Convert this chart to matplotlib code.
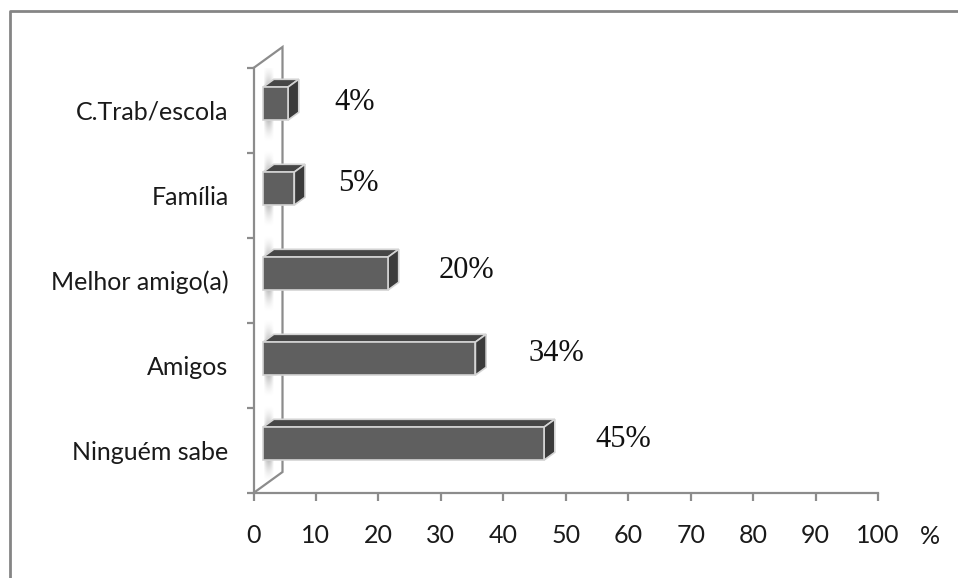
import numpy as np
import matplotlib
matplotlib.use('Agg')
import matplotlib.pyplot as plt
from matplotlib.patches import Polygon
from matplotlib.lines import Line2D

# data
categories = ['Ninguém sabe', 'Amigos', 'Melhor amigo(a)', 'Família', 'C.Trab/escola']
values = [45, 34, 20, 5, 4]
labels = ['45%', '34%', '20%', '5%', '4%']

# manual placement of the % labels (pixels from bar end)
label_dx = [89, 91, 88, 74, 76]
label_dy = [11, 12, 10, 12, 8]

W, H = 958, 578
fig = plt.figure(figsize=(W / 100, H / 100), dpi=100)

# front plot area in pixels
x0, x1 = 253.5, 878
y0, y1 = 493, 68
ax = fig.add_axes([x0 / W, (H - y0) / H, (x1 - x0) / W, (y0 - y1) / H])
ax.set_xlim(0, 100)
ax.set_ylim(0, 5)

PX = 100 / (x1 - x0)
PY = 5 / (y0 - y1)

# depth of the 3d box
DX, DY = 29 * PX, 21 * PY

axis_col = '#8c8c8c'
for s in ['top', 'right']:
    ax.spines[s].set_visible(False)
for s in ['left', 'bottom']:
    ax.spines[s].set_color(axis_col)
    ax.spines[s].set_linewidth(1.6)

# back wall line
ax.plot([0, DX, DX, 0], [0, DY, 5 + DY, 5], color=axis_col, lw=1.6,
        clip_on=False, zorder=1, solid_joinstyle='miter')

# bars
f0, f1 = 0.33, 0.70
bh = 33 * PY
for i, v in enumerate(values):
    yc = i + 0.5
    ox, oy = f0 * DX, f0 * DY
    bx, by = f1 * DX, f1 * DY
    yb, yt = yc - bh / 2, yc + bh / 2

    # soft shade on the wall above and below the bar
    grad = np.linspace(1, 0, 40)
    img = np.zeros((40, 10, 4))
    img[..., :3] = 0.55
    img[..., 3] = (grad[:, None] ** 1.5) * np.sin(np.linspace(0.3, 3.0, 10))[None, :] * 0.55
    ax.imshow(img, extent=[ox + 0.2, ox + 10 * PX + 0.2, yt + oy, yt + oy + 22 * PY],
              origin='lower', aspect='auto', zorder=1.5, interpolation='bilinear')
    ax.imshow(img, extent=[ox + 0.2, ox + 10 * PX + 0.2, yb + oy, yb + oy - 22 * PY],
              origin='lower', aspect='auto', zorder=1.5, interpolation='bilinear')

    front = Polygon([(ox, yb + oy), (v + ox, yb + oy), (v + ox, yt + oy), (ox, yt + oy)],
                    closed=True, fc='#5f5f5f', ec='#d4d4d4', lw=1.2, zorder=3)
    top = Polygon([(ox, yt + oy), (v + ox, yt + oy), (v + bx, yt + by), (bx, yt + by)],
                  closed=True, fc='#464646', ec='#d4d4d4', lw=1.2, zorder=3)
    side = Polygon([(v + ox, yb + oy), (v + bx, yb + by), (v + bx, yt + by), (v + ox, yt + oy)],
                   closed=True, fc='#3b3b3b', ec='#d4d4d4', lw=1.2, zorder=3)
    for p in (top, side, front):
        ax.add_patch(p)

    ax.annotate(labels[i], (v, yc), xytext=(label_dx[i], label_dy[i]),
                textcoords='offset pixels', ha='center', va='center',
                family='Liberation Serif', fontsize=22, color='#111111')

# ticks
ax.set_xticks(np.arange(0, 101, 10))
ax.tick_params(axis='x', length=6, width=1.6, color=axis_col, pad=16,
               labelsize=18, labelcolor='#1a1a1a')
ax.set_yticks(np.arange(0, 6))
ax.set_yticklabels([])
ax.tick_params(axis='y', which='major', length=5, width=1.6, color=axis_col)
ax.set_yticks(np.arange(5) + 0.5, minor=True)
ax.set_yticklabels(categories, minor=True)
ax.tick_params(axis='y', which='minor', length=0, pad=18, labelsize=18,
               labelcolor='#1a1a1a')
for t in ax.get_xticklabels() + ax.get_yticklabels(minor=True):
    t.set_family('Lato')

ax.text(930 / W, 1 - 536 / H, '%', transform=fig.transFigure, ha='center', va='center',
        family='Lato', fontsize=18, color='#1a1a1a')

# outer frame (cropped at right and bottom)
fig.add_artist(Line2D([9.5 / W, 9.5 / W, 1.01], [-0.01, 1 - 10.5 / H, 1 - 10.5 / H],
                      transform=fig.transFigure, color='#858585', lw=2))

fig.savefig('out.png', dpi=100)
